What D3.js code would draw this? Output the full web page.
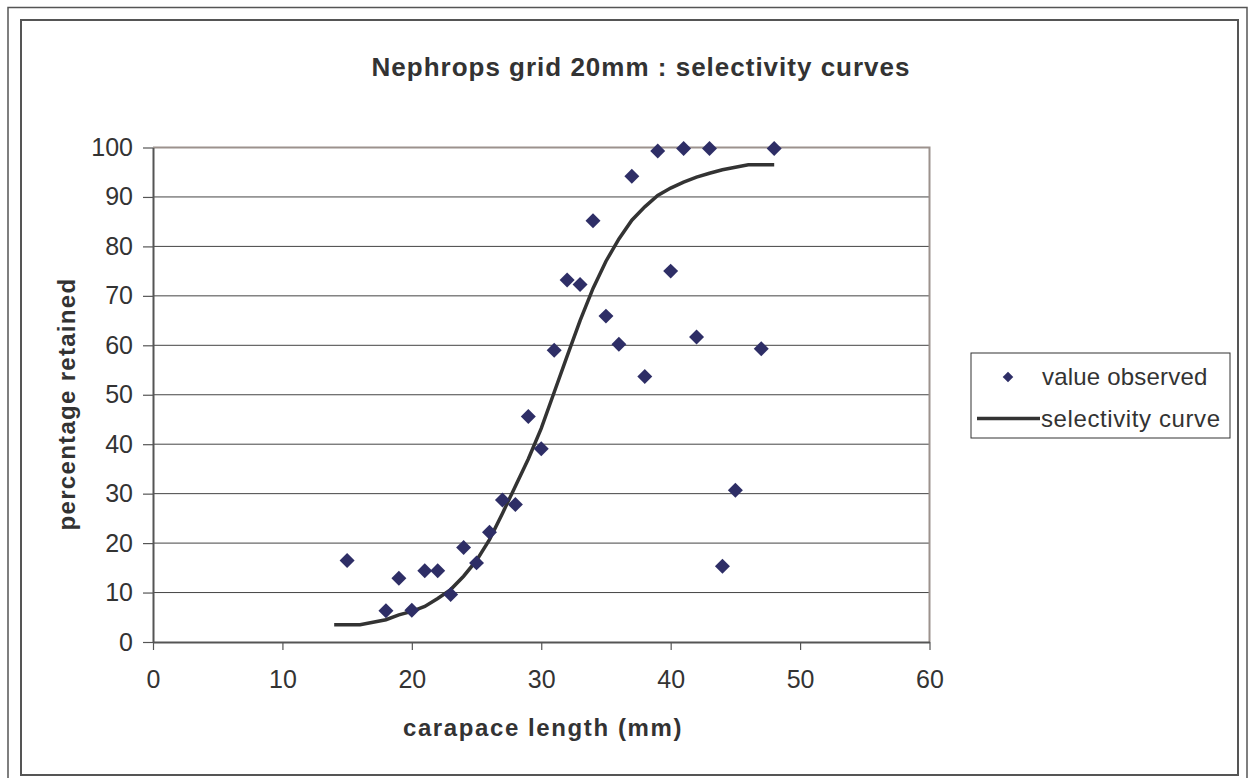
<!DOCTYPE html>
<html>
<head>
<meta charset="utf-8">
<script src="https://cdn.jsdelivr.net/npm/d3@7"></script>
<style>
  body { margin: 0; background: #fff; }
  text { font-family: "Liberation Sans", Arial, sans-serif; fill: #333; }
</style>
</head>
<body>
<div id="container"></div>
<script>
const width = 1248;
const height = 778;

// observed points
const obsLength = [15, 18, 19, 20, 21, 22, 23, 24, 25, 26, 27, 28, 29, 30, 31, 32, 33, 34, 35, 36, 37, 38, 39, 40, 41, 42, 43, 44, 45, 47, 48];
const obsRetained = [16.5, 6.3, 12.9, 6.4, 14.4, 14.4, 9.6, 19.1, 16.0, 22.2, 28.7, 27.8, 45.6, 39.1, 59.0, 73.2, 72.3, 85.2, 65.9, 60.2, 94.2, 53.7, 99.3, 75.0, 99.8, 61.7, 99.8, 15.3, 30.7, 59.3, 99.8];

// fitted curve
const curveLength = [14, 16, 18, 19, 20, 21, 22, 23, 24, 25, 26, 27, 28, 29, 30, 31, 32, 33, 34, 35, 36, 37, 38, 39, 40, 41, 42, 43, 44, 45, 46, 48];
const curveRetained = [3.5, 3.5, 4.5, 5.5, 6.2, 7.2, 8.8, 10.6, 13.3, 16.5, 20.7, 26.0, 31.5, 37.0, 43.2, 50.5, 57.8, 65.0, 71.5, 77.0, 81.5, 85.3, 88.0, 90.3, 91.8, 93.0, 94.0, 94.8, 95.5, 96.0, 96.5, 96.5];

const xTicks = [0, 10, 20, 30, 40, 50, 60];
const yTicks = [0, 10, 20, 30, 40, 50, 60, 70, 80, 90, 100];

const plot = { left: 153, top: 147.5, right: 929.5, bottom: 642 };

const svg = d3.select("#container")
              .append("svg")
              .attr("width", width)
              .attr("height", height);

// frames
svg.append("rect")
   .attr("x", 8).attr("y", 7.5)
   .attr("width", 1239).attr("height", 780)
   .attr("fill", "#fff").attr("stroke", "#555").attr("stroke-width", 1.5);
svg.append("rect")
   .attr("x", 21).attr("y", 20)
   .attr("width", 1217).attr("height", 755)
   .attr("fill", "#fff").attr("stroke", "#555").attr("stroke-width", 2);

const x = d3.scaleLinear().domain([0, 60]).range([plot.left, plot.right]);
const y = d3.scaleLinear().domain([0, 100]).range([plot.bottom, plot.top]);

// gridlines
svg.append("g")
   .selectAll("line")
   .data(yTicks.filter(d => d > 0 && d < 100))
   .enter()
   .append("line")
   .attr("x1", plot.left).attr("x2", plot.right)
   .attr("y1", d => y(d)).attr("y2", d => y(d))
   .attr("stroke", "#444").attr("stroke-width", 1);

// plot border top/right
svg.append("path")
   .attr("d", `M${plot.left},${plot.top}H${plot.right}V${plot.bottom}`)
   .attr("fill", "none").attr("stroke", "#9c928d").attr("stroke-width", 2);

// axes
const yAxis = d3.axisLeft(y).tickValues(yTicks).tickSize(10).tickPadding(10).tickSizeOuter(0);
const xAxis = d3.axisBottom(x).tickValues(xTicks).tickSize(8).tickPadding(20).tickSizeOuter(0);

const gy = svg.append("g")
   .attr("transform", `translate(${plot.left},0)`)
   .call(yAxis);
const gx = svg.append("g")
   .attr("transform", `translate(0,${plot.bottom})`)
   .call(xAxis);
[gx, gy].forEach(g => {
  g.select(".domain").attr("stroke", "#555").attr("stroke-width", 2);
  g.selectAll(".tick line").attr("stroke", "#555").attr("stroke-width", 1.2);
  g.selectAll(".tick text")
   .style("font-size", "25px")
   .style("font-family", "'Liberation Sans', Arial, sans-serif")
   .attr("fill", "#333");
});
gx.selectAll(".tick text").attr("dy", "0.71em");

// curve
const line = d3.line().x(d => x(d[0])).y(d => y(d[1]));
svg.append("path")
   .datum(curveLength.map((d, i) => [d, curveRetained[i]]))
   .attr("d", line)
   .attr("fill", "none")
   .attr("stroke", "#333")
   .attr("stroke-width", 3.5);

// points
const diamond = d3.symbol().type(d3.symbolSquare).size(112);
svg.append("g")
   .selectAll("path")
   .data(obsLength.map((d, i) => [d, obsRetained[i]]))
   .enter()
   .append("path")
   .attr("d", diamond)
   .attr("transform", d => `translate(${x(d[0])},${y(d[1])}) rotate(45)`)
   .attr("fill", "#2e2e66");

// title and axis labels
svg.append("text")
   .attr("x", 641).attr("y", 76)
   .attr("text-anchor", "middle")
   .style("font-size", "26px").style("font-weight", "bold")
   .style("letter-spacing", "1px")
   .text("Nephrops grid 20mm : selectivity curves");

svg.append("text")
   .attr("transform", "translate(75,404) rotate(-90)")
   .attr("text-anchor", "middle")
   .style("font-size", "24px").style("font-weight", "bold")
   .style("letter-spacing", "1.3px")
   .text("percentage retained");

svg.append("text")
   .attr("x", 543).attr("y", 736)
   .attr("text-anchor", "middle")
   .style("font-size", "24px").style("font-weight", "bold")
   .style("letter-spacing", "1.6px")
   .text("carapace length (mm)");

// legend
const legend = svg.append("g");
legend.append("rect")
      .attr("x", 971).attr("y", 353)
      .attr("width", 259).attr("height", 85)
      .attr("fill", "#fff").attr("stroke", "#333").attr("stroke-width", 1);
legend.append("path")
      .attr("d", d3.symbol().type(d3.symbolSquare).size(56))
      .attr("transform", "translate(1008,377) rotate(45)")
      .attr("fill", "#2e2e66");
legend.append("text")
      .attr("x", 1042).attr("y", 385)
      .style("font-size", "24px")
      .style("letter-spacing", "0.2px")
      .text("value observed");
legend.append("line")
      .attr("x1", 977).attr("x2", 1040)
      .attr("y1", 418.5).attr("y2", 418.5)
      .attr("stroke", "#333").attr("stroke-width", 3.5);
legend.append("text")
      .attr("x", 1041).attr("y", 427)
      .style("font-size", "24px")
      .style("letter-spacing", "0.6px")
      .text("selectivity curve");
</script>
</body>
</html>
